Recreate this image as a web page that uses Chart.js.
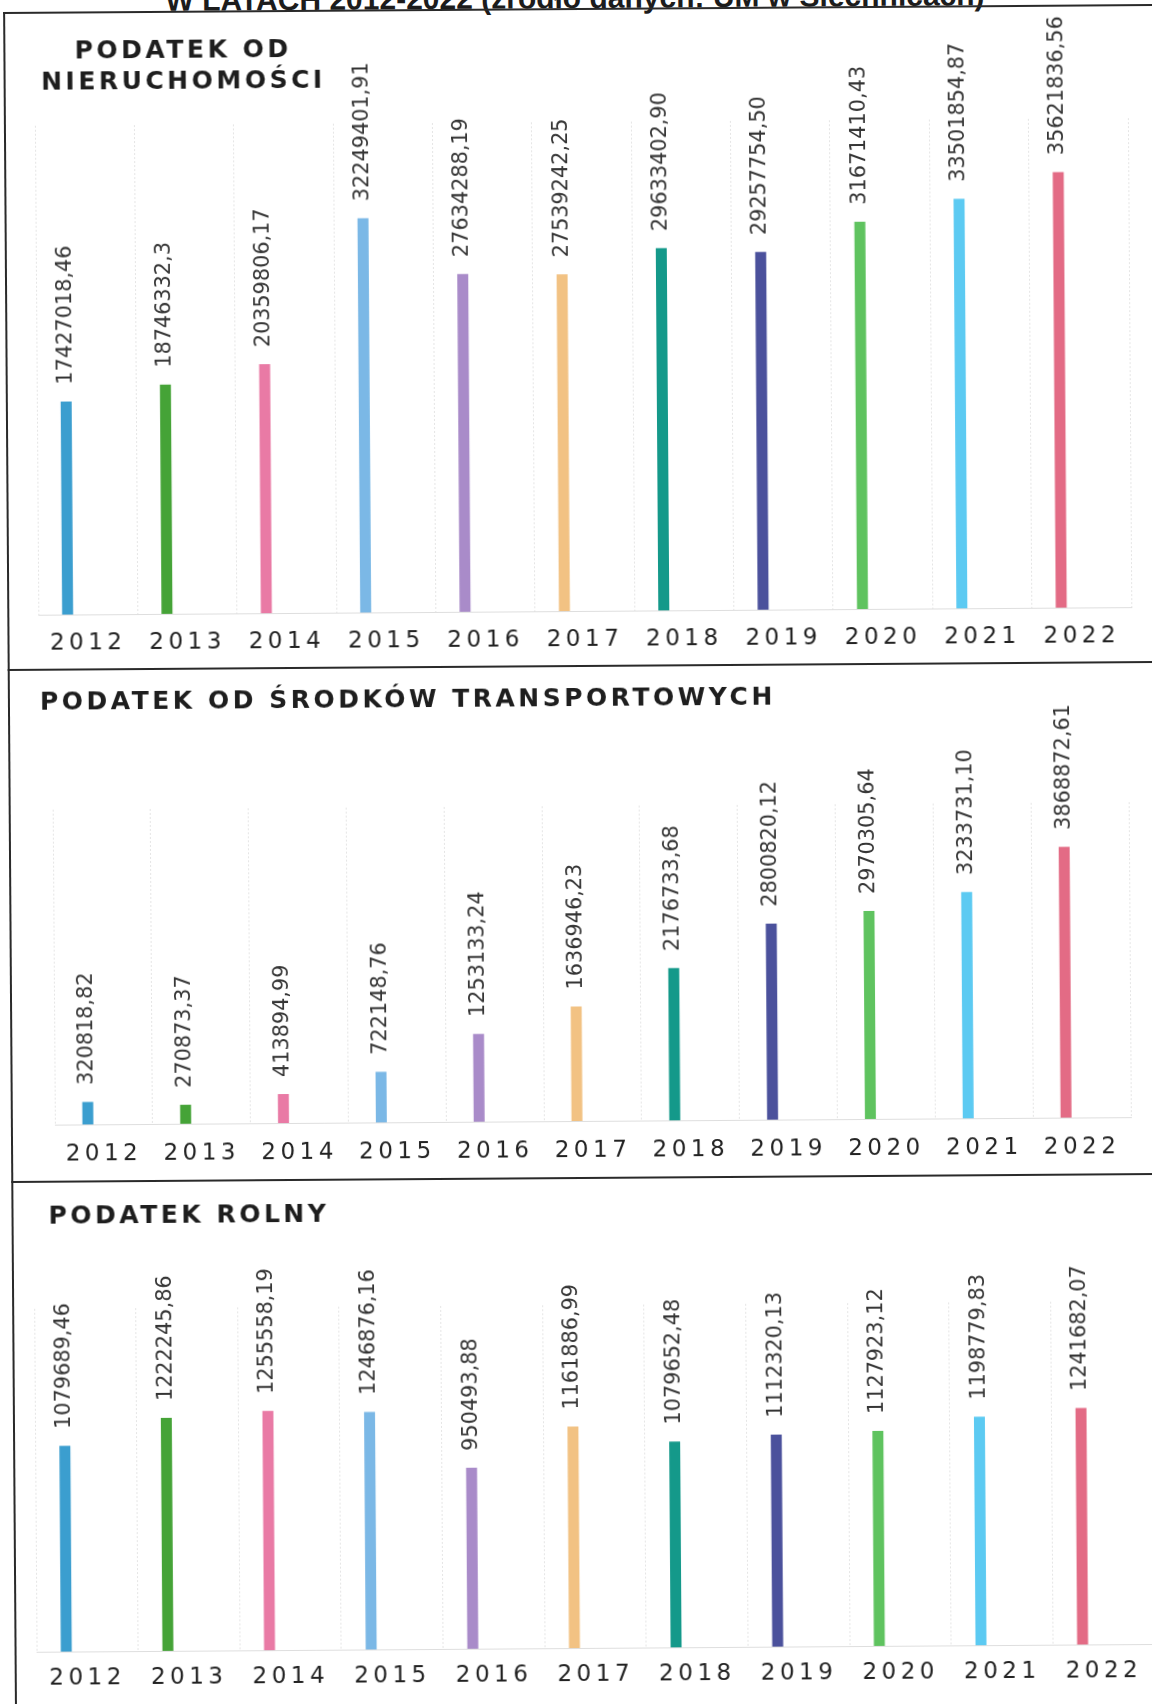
<!DOCTYPE html>
<html lang="pl">
<head>
<meta charset="utf-8">
<title>Podatki w latach 2012-2022</title>
<script src="https://cdn.jsdelivr.net/npm/chart.js@4.4.0/dist/chart.umd.min.js"></script>
<style>
  html, body { margin: 0; padding: 0; background: #fff; width: 1152px; height: 1704px; overflow: hidden; }
  #page { position: absolute; left: 0; top: 0; width: 1152px; height: 1704px;
          transform: rotate(-0.4deg); transform-origin: 576px 852px; }
  #doctitle { position: absolute; left: 0; top: -17px; width: 1162px; text-align: center;
              font: bold 30px "Liberation Sans", Arial, sans-serif; line-height: 30px;
              color: #1c1c1c; white-space: nowrap; }
  .hline { position: absolute; left: 9px; width: 1250px; height: 2px; background: #2a2a2a; }
  .vline { position: absolute; left: 9px; top: 8px; width: 2px; height: 1800px; background: #2a2a2a; }
  canvas { position: absolute; left: 0; top: 0; }
</style>
</head>
<body>
<div id="page">
  <div id="doctitle">W LATACH 2012-2022 (źródło danych: UM w Siechnicach)</div>
  <div class="hline" style="top:8px"></div>
  <div class="vline"></div>
  <div class="hline" style="top:665px"></div>
  <div class="hline" style="top:1177px"></div>
  <canvas id="c1" width="1152" height="1704"></canvas>
  <canvas id="c2" width="1152" height="1704"></canvas>
  <canvas id="c3" width="1152" height="1704"></canvas>
</div>
<script>
// ---- data ----
const years = ['2012','2013','2014','2015','2016','2017','2018','2019','2020','2021','2022'];
const barColors = ['#3b9ecf','#45a337','#e97aa5','#7bb8e6','#a98bc9','#f2c283',
                   '#14998a','#4b519c','#5fc35f','#5ccaf2','#e36b85'];

const nieruchomosciValues = [17427018.46, 18746332.3, 20359806.17, 32249401.91, 27634288.19,
  27539242.25, 29633402.90, 29257754.50, 31671410.43, 33501854.87, 35621836.56];
const nieruchomosciLabels = ['17427018,46','18746332,3','20359806,17','32249401,91','27634288,19',
  '27539242,25','29633402,90','29257754,50','31671410,43','33501854,87','35621836,56'];

const transportValues = [320818.82, 270873.37, 413894.99, 722148.76, 1253133.24, 1636946.23,
  2176733.68, 2800820.12, 2970305.64, 3233731.10, 3868872.61];
const transportLabels = ['320818,82','270873,37','413894,99','722148,76','1253133,24','1636946,23',
  '2176733,68','2800820,12','2970305,64','3233731,10','3868872,61'];

const rolnyValues = [1079689.46, 1222245.86, 1255558.19, 1246876.16, 950493.88, 1161886.99,
  1079652.48, 1112320.13, 1127923.12, 1198779.83, 1241682.07];
const rolnyLabels = ['1079689,46','1222245,86','1255558,19','1246876,16','950493,88','1161886,99',
  '1079652,48','1112320,13','1127923,12','1198779,83','1241682,07'];

const titleNieruchomosci = ['PODATEK OD', 'NIERUCHOMOŚCI'];
const titleTransport = ['PODATEK OD ŚRODKÓW TRANSPORTOWYCH'];
const titleRolny = ['PODATEK ROLNY'];

// ---- plugins ----
const tickSpacing = {
  id: 'tickSpacing',
  beforeDraw(chart) { chart.ctx.letterSpacing = '4.5px'; }
};
const panelTitle = {
  id: 'panelTitle',
  afterDraw(chart, args, o) {
    const ctx = chart.ctx;
    ctx.save();
    ctx.font = 'bold 25px "DejaVu Sans", Verdana, sans-serif';
    ctx.letterSpacing = '3.5px';
    ctx.fillStyle = '#1e1e1e';
    ctx.textAlign = o.align;
    ctx.textBaseline = 'alphabetic';
    const dx = o.align === 'center' ? 1.75 : 0;
    o.lines.forEach((t, i) => ctx.fillText(t, o.x + dx, o.y + i * o.gap));
    ctx.restore();
  }
};
const valueLabels = {
  id: 'valueLabels',
  afterDatasetsDraw(chart, args, o) {
    const ctx = chart.ctx;
    const meta = chart.getDatasetMeta(0);
    ctx.save();
    ctx.font = '20.8px "DejaVu Sans", Verdana, sans-serif';
    ctx.letterSpacing = '0px';
    ctx.fillStyle = '#353535';
    ctx.textAlign = 'left';
    ctx.textBaseline = 'middle';
    meta.data.forEach((bar, i) => {
      ctx.save();
      ctx.translate(bar.x, bar.y - o.gap);
      ctx.rotate(-Math.PI / 2);
      ctx.fillText(o.labels[i], 0, 0);
      ctx.restore();
    });
    ctx.restore();
  }
};

function makePanel(id, values, labels, cfg) {
  const axisH = 50;
  new Chart(document.getElementById(id), {
    type: 'bar',
    data: {
      labels: years,
      datasets: [
        { data: values, backgroundColor: barColors, borderWidth: 0,
          barPercentage: cfg.barPct, categoryPercentage: cfg.catPct },
        { data: years.map(() => null), backgroundColor: 'rgba(0,0,0,0)',
          barPercentage: cfg.barPct, categoryPercentage: cfg.catPct }
      ]
    },
    options: {
      responsive: false,
      animation: false,
      devicePixelRatio: 1,
      events: [],
      layout: { padding: { top: cfg.top, left: cfg.left, right: 1152 - cfg.right,
                           bottom: 1704 - cfg.bottom - axisH } },
      plugins: {
        legend: { display: false },
        tooltip: { enabled: false },
        panelTitle: { lines: cfg.title, x: cfg.tx, y: cfg.ty, gap: 31, align: cfg.talign },
        valueLabels: { labels: labels, gap: 17 }
      },
      scales: {
        x: {
          grid: { display: true, offset: true, color: 'rgba(0,0,0,0.10)', lineWidth: 1, drawTicks: false },
          border: { display: true, color: 'rgba(0,0,0,0.13)', dash: [2, 2] },
          ticks: { font: { family: '"DejaVu Sans", Verdana, sans-serif', size: 23 }, color: '#222',
                   padding: cfg.tickPad, maxRotation: 0, minRotation: 0, autoSkip: false },
          afterFit(s) { s.height = axisH; }
        },
        y: { display: false, min: 0, max: cfg.yMax }
      }
    },
    plugins: [tickSpacing, panelTitle, valueLabels]
  });
}

makePanel('c1', nieruchomosciValues, nieruchomosciLabels, {
  top: 122, bottom: 611, left: 40, right: 1133, yMax: 40000000,
  catPct: 0.82, barPct: 0.27, tickPad: 15,
  title: titleNieruchomosci, tx: 187, ty: 55, talign: 'center'
});
makePanel('c2', transportValues, transportLabels, {
  top: 806, bottom: 1121, left: 53, right: 1129, yMax: 4500000,
  catPct: 0.65, barPct: 0.345, tickPad: 16,
  title: titleTransport, tx: 41, ty: 706, talign: 'left'
});
makePanel('c3', rolnyValues, rolnyLabels, {
  top: 1305, bottom: 1648, left: 31, right: 1149, yMax: 1800000,
  catPct: 0.83, barPct: 0.26, tickPad: 13,
  title: titleRolny, tx: 46, ty: 1220, talign: 'left'
});
</script>
</body>
</html>
